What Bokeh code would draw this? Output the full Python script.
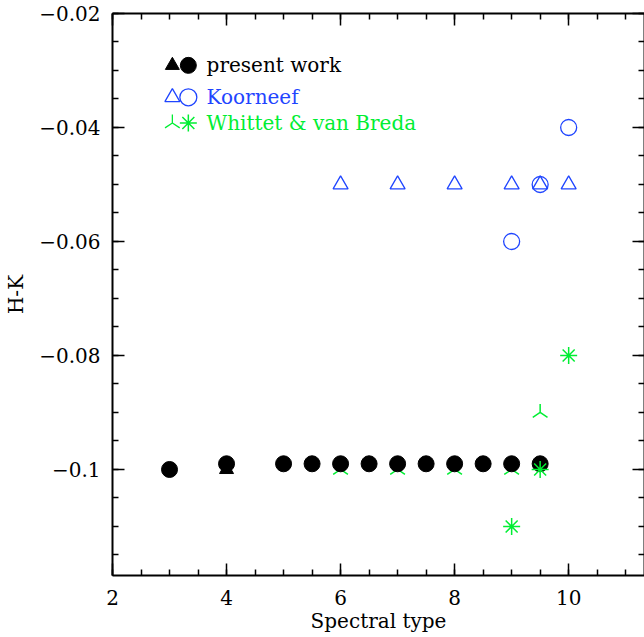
import numpy as np
from bokeh.plotting import figure
from bokeh.models import (LinearAxis, SingleIntervalTicker, CustomJSTickFormatter, Range1d)
from bokeh.core.properties import value
from bokeh.embed import file_html
from bokeh.resources import INLINE

# ---------------- data ----------------
pw_circle_x = [3, 4, 5, 5.5, 6, 6.5, 7, 7.5, 8, 8.5, 9, 9.5]
pw_circle_y = [-0.1, -0.099, -0.099, -0.099, -0.099, -0.099, -0.099, -0.099, -0.099, -0.099, -0.099, -0.099]
pw_tri_x = [4]
pw_tri_y = [-0.1]

koor_tri_x = [6, 7, 8, 9, 9.5, 10]
koor_tri_y = [-0.05, -0.05, -0.05, -0.05, -0.05, -0.05]
koor_circ_x = [9, 9.5, 10]
koor_circ_y = [-0.06, -0.05, -0.04]

wvb_tri_x = [6, 7, 8, 9, 9.5]
wvb_tri_y = [-0.1, -0.1, -0.1, -0.1, -0.09]
wvb_ast_x = [9, 9.5, 10]
wvb_ast_y = [-0.11, -0.1, -0.08]

legend_labels = ["present work", "Koorneef", "Whittet & van Breda"]

# ---------------- style ----------------
BLUE = "#1f45ff"
GREEN = "#00ee33"
FONT = "DejaVu Serif"
FS = "20px"

p = figure(width=644, height=637, output_backend="svg", toolbar_location=None,
           x_range=Range1d(2, 11.33), y_range=Range1d(-0.1186, -0.02),
           min_border_left=112, min_border_right=0, min_border_top=13, min_border_bottom=62,
           x_axis_label="Spectral type", y_axis_label="H-K")
p.grid.visible = False
p.outline_line_color = None
p.background_fill_color = "white"
p.border_fill_color = "white"

xt = SingleIntervalTicker(interval=2, num_minor_ticks=4)
yt = SingleIntervalTicker(interval=0.02, num_minor_ticks=4)
fmt = CustomJSTickFormatter(code="""
const s = parseFloat(tick.toFixed(3)).toString();
return s.replace('-', '\u2212');
""")

def style_axis(ax, labels=True):
    ax.axis_line_width = 2
    ax.axis_line_color = "black"
    ax.major_tick_in = 12
    ax.major_tick_out = 0
    ax.minor_tick_in = 6
    ax.minor_tick_out = 0
    ax.major_tick_line_width = 1.5
    ax.minor_tick_line_width = 1.5
    ax.major_tick_line_color = "black"
    ax.minor_tick_line_color = "black"
    if labels:
        ax.major_label_text_font = FONT
        ax.major_label_text_font_size = FS
        ax.major_label_text_color = "black"
        ax.axis_label_text_font = FONT
        ax.axis_label_text_font_size = FS
        ax.axis_label_text_font_style = "normal"
        ax.axis_label_text_color = "black"
    else:
        ax.major_label_text_font_size = "1px"
        ax.major_label_text_color = None
        ax.major_label_standoff = 0

p.xaxis[0].ticker = xt
p.yaxis[0].ticker = yt
p.yaxis[0].formatter = fmt
style_axis(p.xaxis[0])
style_axis(p.yaxis[0])
p.xaxis[0].major_label_standoff = 14
p.xaxis[0].axis_label_standoff = 1
p.yaxis[0].major_label_standoff = 12
p.yaxis[0].axis_label_standoff = 8

top = LinearAxis(ticker=SingleIntervalTicker(interval=2, num_minor_ticks=4))
right = LinearAxis(ticker=SingleIntervalTicker(interval=0.02, num_minor_ticks=4))
style_axis(top, labels=False)
style_axis(right, labels=False)
p.add_layout(top, "above")
p.add_layout(right, "right")

# ---------------- data marks ----------------
p.scatter(wvb_tri_x, wvb_tri_y, marker="y", size=17, line_color=GREEN, line_width=1.5, angle=np.pi)
p.scatter(pw_tri_x, pw_tri_y, marker="triangle", size=14, fill_color="black", line_color="black")
p.scatter(pw_circle_x, pw_circle_y, marker="circle", size=16, fill_color="black", line_color="black")
p.scatter(wvb_ast_x, wvb_ast_y, marker="asterisk", size=17, line_color=GREEN, line_width=1.5)
p.scatter(koor_tri_x, koor_tri_y, marker="triangle", size=15, fill_color=None, line_color=BLUE, line_width=1.3)
p.scatter(koor_circ_x, koor_circ_y, marker="circle", size=16, fill_color=None, line_color=BLUE, line_width=1.3)

# ---------------- legend ----------------
leg_x1, leg_x2, leg_tx = 3.05, 3.33, 3.65
leg_y = [-0.0291, -0.0347, -0.0392]
p.scatter([leg_x1], [leg_y[0]], marker="triangle", size=14, fill_color="black", line_color="black")
p.scatter([leg_x2], [leg_y[0]], marker="circle", size=16, fill_color="black", line_color="black")
p.scatter([leg_x1], [leg_y[1]], marker="triangle", size=15, fill_color=None, line_color=BLUE, line_width=1.3)
p.scatter([leg_x2], [leg_y[1]], marker="circle", size=17, fill_color=None, line_color=BLUE, line_width=1.3)
p.scatter([leg_x1], [leg_y[2]], marker="y", size=17, line_color=GREEN, line_width=1.3, angle=np.pi)
p.scatter([leg_x2], [leg_y[2]], marker="asterisk", size=17, line_color=GREEN, line_width=1.5)
p.text([leg_tx] * 3, leg_y, text=legend_labels, text_color=["black", BLUE, GREEN],
       text_font=value(FONT), text_font_size=FS, text_align="left", text_baseline="middle")

open("out.html", "w").write(file_html(p, INLINE))
